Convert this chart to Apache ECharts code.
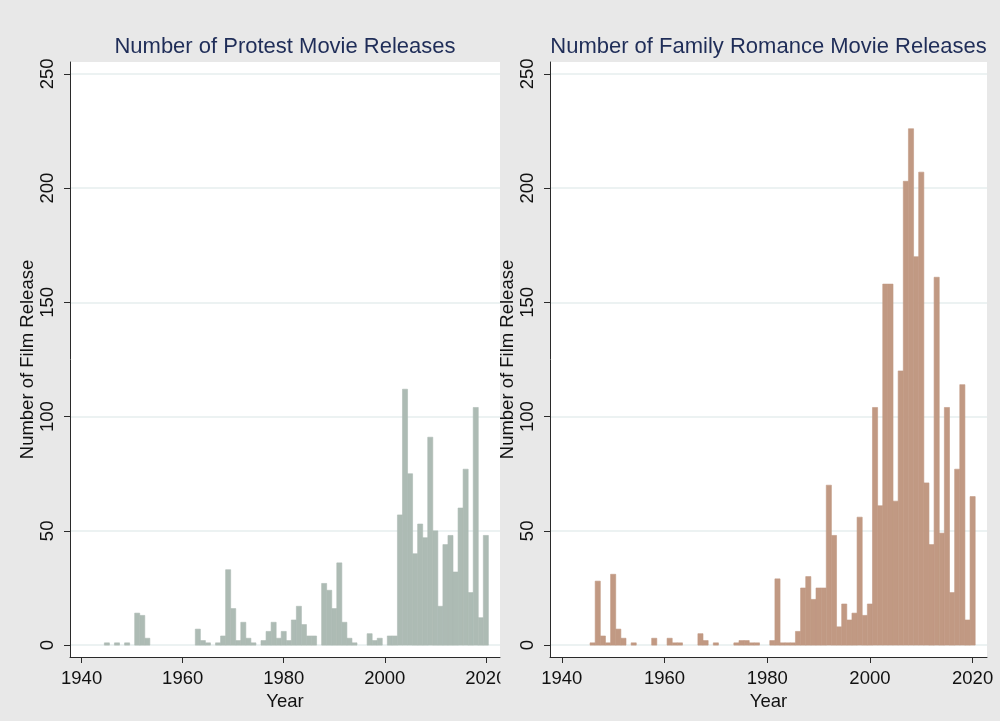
<!DOCTYPE html>
<html>
<head>
<meta charset="utf-8">
<script src="https://cdn.jsdelivr.net/npm/echarts@6/dist/echarts.min.js"></script>
<style>
  html, body { margin: 0; padding: 0; background: #e8e8e8; }
  #chart { width: 1000px; height: 721px; }
</style>
</head>
<body>
<div id="chart"></div>
<script>
// Yearly release counts, one bar per year (years with no releases are left out)
const protestYears = [1945, 1947, 1949, 1951, 1952, 1953, 1963, 1964, 1965, 1967, 1968, 1969, 1970,
  1971, 1972, 1973, 1974, 1976, 1977, 1978, 1979, 1980, 1981, 1982, 1983, 1984, 1985, 1986,
  1988, 1989, 1990, 1991, 1992, 1993, 1994, 1997, 1998, 1999, 2001, 2002, 2003, 2004, 2005,
  2006, 2007, 2008, 2009, 2010, 2011, 2012, 2013, 2014, 2015, 2016, 2017, 2018, 2019, 2020];
const protestCounts = [1, 1, 1, 14, 13, 3, 7, 2, 1, 1, 4, 33, 16,
  2, 10, 3, 1, 2, 6, 10, 3, 6, 2, 11, 17, 9, 4, 4,
  27, 24, 16, 36, 10, 3, 1, 5, 2, 3, 4, 4, 57, 112, 75,
  40, 53, 47, 91, 50, 17, 44, 48, 32, 60, 77, 23, 104, 12, 48];

const romanceYears = [1946, 1947, 1948, 1949, 1950, 1951, 1952, 1954, 1958, 1961, 1962, 1963, 1967,
  1968, 1970, 1974, 1975, 1976, 1977, 1978, 1981, 1982, 1983, 1984, 1985, 1986, 1987, 1988,
  1989, 1990, 1991, 1992, 1993, 1994, 1995, 1996, 1997, 1998, 1999, 2000, 2001, 2002, 2003,
  2004, 2005, 2006, 2007, 2008, 2009, 2010, 2011, 2012, 2013, 2014, 2015, 2016, 2017, 2018,
  2019, 2020];
const romanceCounts = [1, 28, 4, 1, 31, 7, 3, 1, 3, 3, 1, 1, 5,
  2, 1, 1, 2, 2, 1, 1, 2, 29, 1, 1, 1, 6, 25, 30,
  20, 25, 25, 70, 48, 8, 18, 11, 14, 56, 13, 18, 104, 61, 158,
  158, 63, 120, 203, 226, 170, 207, 71, 44, 161, 49, 104, 23, 77, 114,
  11, 65];

const yearTicks = [1940, 1960, 1980, 2000, 2020];
const countTicks = [0, 50, 100, 150, 200, 250];

const titles = ['Number of Protest Movie Releases', 'Number of Family Romance Movie Releases'];
const xTitle = 'Year';
const yTitle = 'Number of Film Release';

const FONT = '"Liberation Sans", Arial, Helvetica, sans-serif';
const INK = '#111111';
const AXIS = '#2a2a2a';
const TITLE_INK = '#1f2d58';
const AXIS_FONT = 18.5;

const panels = [
  { left: 70, width: 430, years: protestYears, counts: protestCounts, color: '#adbbb4' },
  { left: 550, width: 437, years: romanceYears, counts: romanceCounts, color: '#c19983' }
];

// One histogram bar spans a full year, centred on that year
function yearBar(color) {
  return function (params, api) {
    const yr = api.value(0);
    const n = api.value(1);
    const topLeft = api.coord([yr - 0.5, n]);
    const bottomRight = api.coord([yr + 0.5, 0]);
    return {
      type: 'rect',
      shape: {
        x: topLeft[0],
        y: topLeft[1],
        width: bottomRight[0] - topLeft[0],
        height: bottomRight[1] - topLeft[1]
      },
      style: { fill: color, stroke: color, lineWidth: 0.6 }
    };
  };
}

const plainNumber = function (v) { return String(v); };

const grid = [], xAxis = [], yAxis = [], series = [], graphic = [];

panels.forEach(function (p, i) {
  grid.push({
    left: p.left, top: 62, width: p.width, height: 595,
    show: true, backgroundColor: '#ffffff', borderWidth: 0
  });
  xAxis.push({
    type: 'value', gridIndex: i, min: 1937.7, max: 2022.8,
    axisLine: { show: true, onZero: false, lineStyle: { color: AXIS, width: 1 } },
    axisTick: { show: true, length: 6, customValues: yearTicks, lineStyle: { color: AXIS } },
    axisLabel: {
      customValues: yearTicks, formatter: plainNumber,
      fontSize: AXIS_FONT, color: INK, fontFamily: FONT, margin: 12
    },
    splitLine: { show: false },
    name: xTitle, nameLocation: 'middle', nameGap: 33,
    nameTextStyle: { fontSize: AXIS_FONT, color: INK, fontFamily: FONT }
  });
  yAxis.push({
    type: 'value', gridIndex: i, min: -5.2, max: 255.2,
    axisLine: { show: true, onZero: false, lineStyle: { color: AXIS, width: 1 } },
    axisTick: { show: true, length: 6, customValues: countTicks, lineStyle: { color: AXIS } },
    axisLabel: {
      customValues: countTicks, formatter: plainNumber, rotate: 90,
      fontSize: AXIS_FONT, color: INK, fontFamily: FONT, margin: 13
    },
    splitLine: { show: true, lineStyle: { color: '#e6eeee', width: 1.5 } },
    name: yTitle, nameLocation: 'middle', nameGap: 33,
    nameTextStyle: { fontSize: AXIS_FONT, color: INK, fontFamily: FONT }
  });
  series.push({
    type: 'custom', xAxisIndex: i, yAxisIndex: i,
    renderItem: yearBar(p.color),
    data: p.years.map(function (y, k) { return [y, p.counts[k]]; }),
    animation: false
  });
  graphic.push({
    type: 'text', x: p.left + p.width / 2, y: 47, z: 100,
    style: {
      text: titles[i], fontSize: 22, fontFamily: FONT, fill: TITLE_INK,
      textAlign: 'center', textVerticalAlign: 'middle'
    }
  });
});

// the left panel's region ends just past its plot area, trimming its last year label
graphic.push({
  type: 'rect', x: 500.5, y: 662, z: 100,
  shape: { width: 7, height: 34 },
  style: { fill: '#e8e8e8' }
});

const chart = echarts.init(document.getElementById('chart'), null, { renderer: 'canvas' });
chart.setOption({
  backgroundColor: '#e8e8e8',
  animation: false,
  grid: grid,
  xAxis: xAxis,
  yAxis: yAxis,
  series: series,
  graphic: graphic
});
</script>
</body>
</html>
